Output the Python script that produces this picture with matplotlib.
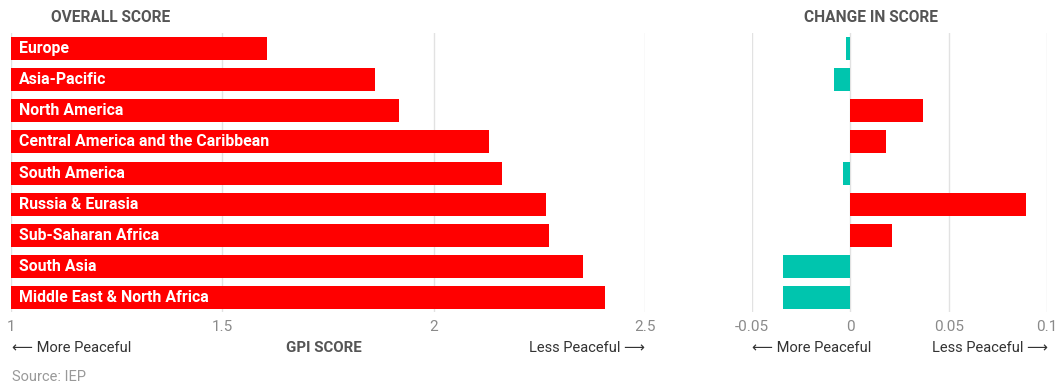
import matplotlib.pyplot as plt

regions = ["Europe", "Asia-Pacific", "North America",
           "Central America and the Caribbean", "South America",
           "Russia & Eurasia", "Sub-Saharan Africa", "South Asia",
           "Middle East & North Africa"]
overall = [1.606, 1.861, 1.918, 2.131, 2.162, 2.266, 2.273, 2.353, 2.405]
change = [-0.0022, -0.0082, 0.0372, 0.0182, -0.0039, 0.0893, 0.0211, -0.034, -0.034]

overall_ticks = [1, 1.5, 2, 2.5]
overall_ticklabels = ["1", "1.5", "2", "2.5"]
change_ticks = [-0.05, 0, 0.05, 0.1]
change_ticklabels = ["-0.05", "0", "0.05", "0.1"]

RED = '#ff0000'
TEAL = '#00c5ae'
GRID = '#e2e2e2'
DARK = '#555555'
TICK = '#8a8a8a'

plt.rcParams['font.family'] = ['Roboto', 'DejaVu Sans']

W, H = 1058, 385
fig = plt.figure(figsize=(W / 100, H / 100), dpi=100)

def px_axes(x0, x1, y0, y1):
    return fig.add_axes([x0 / W, 1 - y1 / H, (x1 - x0) / W, (y1 - y0) / H])

ax1 = px_axes(11, 645, 33, 312)
ax2 = px_axes(752, 1047, 33, 312)

y = list(range(len(regions)))

# Left: overall score
ax1.barh(y, [v - 1 for v in overall], left=1, height=0.74, color=RED, zorder=2)
ax1.set_xlim(1, 2.5)
for i, name in enumerate(regions):
    ax1.text(1.019, i, name, color='white', fontsize=11.4, fontweight='bold',
             va='center', ha='left', zorder=3)

# Right: change in score
cols = [RED if v > 0 else TEAL for v in change]
ax2.barh(y, change, height=0.74, color=cols, zorder=2)
ax2.set_xlim(-0.05, 0.1)

for ax, ticks, labels in [(ax1, overall_ticks, overall_ticklabels),
                          (ax2, change_ticks, change_ticklabels)]:
    ax.set_ylim(8.464, -0.5)
    ax.set_yticks([])
    ax.set_xticks(ticks)
    ax.set_xticklabels(labels, color=TICK, fontsize=11)
    ax.tick_params(axis='x', length=0, pad=6)
    for t in ticks:
        ax.axvline(t, color=GRID, lw=1, zorder=1)
    for s in ax.spines.values():
        s.set_visible(False)

# Titles
fig.text(111 / W, 1 - 18 / H, "OVERALL SCORE", color=DARK, fontsize=11.2,
         fontweight='bold', ha='center', va='center')
fig.text(871 / W, 1 - 18 / H, "CHANGE IN SCORE", color=DARK, fontsize=11.2,
         fontweight='bold', ha='center', va='center')

# Direction labels
yl = 1 - 348 / H
fig.text(12 / W, yl, "\u27f5 More Peaceful", color='#333333', fontsize=10.5,
         ha='left', va='center')
fig.text(645 / W, yl, "Less Peaceful \u27f6", color='#333333', fontsize=10.5,
         ha='right', va='center')
fig.text(324 / W, yl, "GPI SCORE", color=DARK, fontsize=10.8, fontweight='bold',
         ha='center', va='center')
fig.text(752 / W, yl, "\u27f5 More Peaceful", color='#333333', fontsize=10.5,
         ha='left', va='center')
fig.text(1048 / W, yl, "Less Peaceful \u27f6", color='#333333', fontsize=10.5,
         ha='right', va='center')

fig.text(12 / W, 1 - 377 / H, "Source: IEP", color='#999999', fontsize=10.5,
         ha='left', va='center')

fig.savefig("out.png", dpi=100)
